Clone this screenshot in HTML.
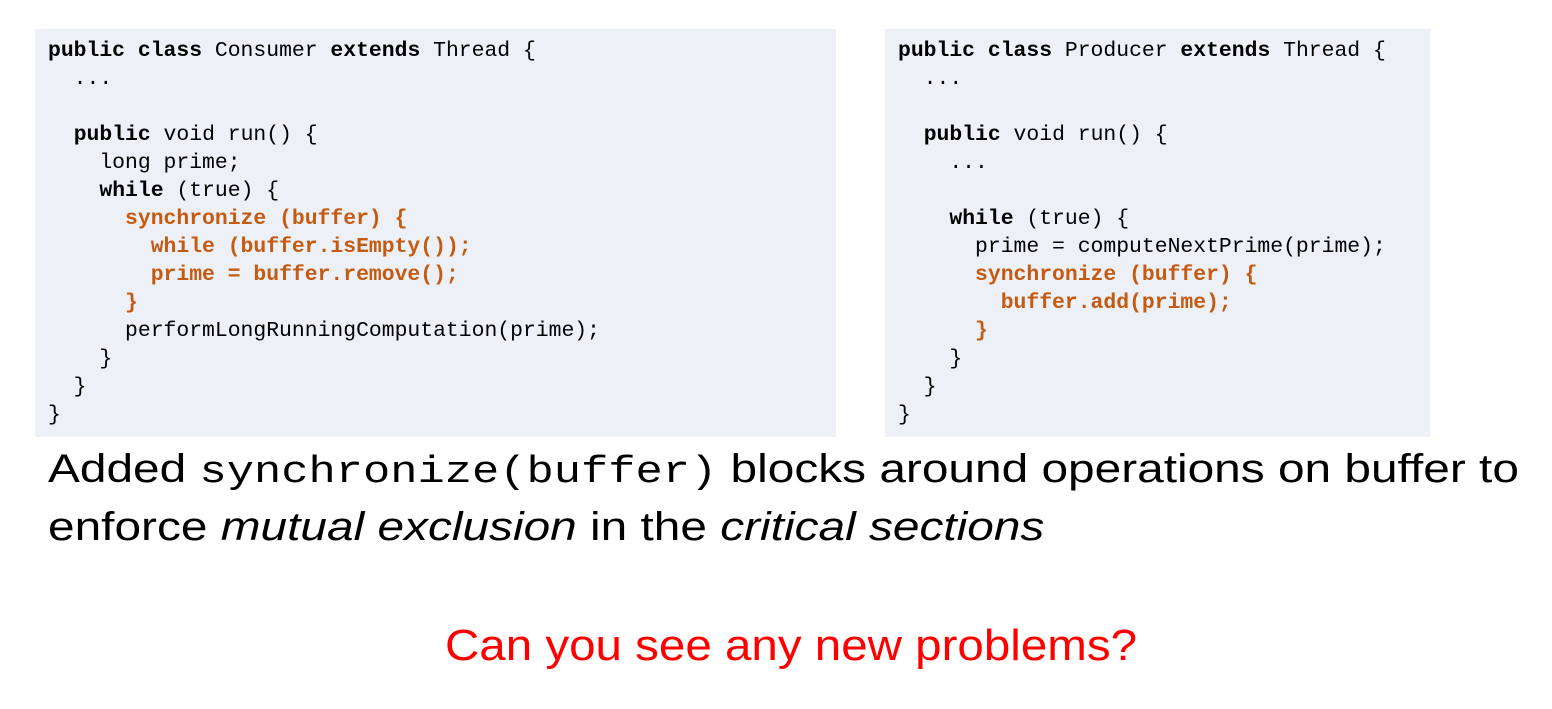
<!DOCTYPE html>
<html><head><meta charset="utf-8"><style>
body{margin:0;width:1552px;height:709px;background:#fff;position:relative;overflow:hidden}
.box{position:absolute;top:29px;height:408px;background:#EDF0F7;box-sizing:border-box;padding:8px 0 0 13px}
pre{margin:0;font-family:"Liberation Mono",monospace;font-size:21.4px;line-height:28px;color:#000}
b{font-weight:bold}
.o{color:#C55A11;font-weight:bold}
.t{position:absolute;left:48px;font-family:"Liberation Sans",sans-serif;font-size:40px;white-space:nowrap;color:#000;transform-origin:0 0;transform:scaleX(1.195)}
.t code{font-family:"Liberation Mono",monospace;font-size:38px}
.r{position:absolute;left:0;width:1582px;text-align:center;top:621px;font-family:"Liberation Sans",sans-serif;font-size:44px;color:#FF0000;transform-origin:791px 0;transform:scaleX(1.08)}
</style></head><body>
<div class="box" style="left:35px;width:801px"><pre><b>public class</b> Consumer <b>extends</b> Thread {
  ...

  <b>public</b> void run() {
    long prime;
    <b>while</b> (true) {
      <span class="o">synchronize (buffer) {</span>
        <span class="o">while (buffer.isEmpty());</span>
        <span class="o">prime = buffer.remove();</span>
      <span class="o">}</span>
      performLongRunningComputation(prime);
    }
  }
}</pre></div>
<div class="box" style="left:885px;width:545px"><pre><b>public class</b> Producer <b>extends</b> Thread {
  ...

  <b>public</b> void run() {
    ...

    <b>while</b> (true) {
      prime = computeNextPrime(prime);
      <span class="o">synchronize (buffer) {</span>
        <span class="o">buffer.add(prime);</span>
      <span class="o">}</span>
    }
  }
}</pre></div>
<div class="t" style="top:447px">Added <code>synchronize(buffer)</code> blocks around operations on buffer to</div>
<div class="t" style="top:505px">enforce <i>mutual exclusion</i> in the <i>critical sections</i></div>
<div class="r">Can you see any new problems?</div>
</body></html>
